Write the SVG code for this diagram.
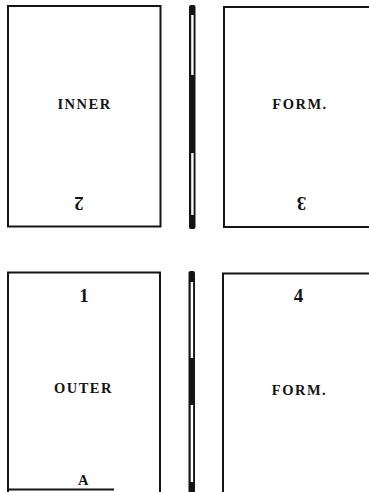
<svg xmlns="http://www.w3.org/2000/svg" width="369" height="492" viewBox="0 0 369 492">
<style>
.box{fill:none;stroke:#141414;stroke-width:2}
.t{font-family:"Liberation Serif","Times New Roman",serif;font-weight:bold;font-size:14.5px;fill:#141414;text-anchor:middle;letter-spacing:1.5px}
.n{font-family:"Liberation Serif","Times New Roman",serif;font-weight:bold;font-size:19px;fill:#141414;text-anchor:middle}
.bar{fill:#141414}
.slot{fill:#fff}
</style>
<rect width="369" height="492" fill="#fff"/>
<g id="inner-left">
<rect class="box" x="8" y="6" width="152.5" height="220.5"/>
<text class="t" x="84.5" y="109">INNER</text>
<text class="n" x="79" y="210" transform="rotate(180 79 203.5)">2</text>
</g>
<g id="inner-right">
<path class="box" d="M370 7 H224 V227 H370"/>
<text class="t" x="300" y="109">FORM.</text>
<text class="n" x="301.5" y="210" transform="rotate(180 301.5 203.5)">3</text>
</g>
<g id="outer-left">
<path class="box" d="M8 493 V272.5 H160 V493"/>
<path class="box" d="M8 489.5 H114"/>
<text class="n" x="84" y="302">1</text>
<text class="t" x="83.5" y="393">OUTER</text>
<text class="t" x="84" y="485">A</text>
</g>
<g id="outer-right">
<path class="box" d="M370 273.5 H223 V493"/>
<text class="n" x="298.5" y="302">4</text>
<text class="t" x="299.5" y="394.5">FORM.</text>
</g>
<g id="connectors">
<rect class="bar" x="189" y="5" width="6.5" height="224" rx="2"/>
<rect class="slot" x="191.2" y="15" width="2.4" height="60"/>
<rect class="slot" x="191.2" y="153" width="2.4" height="62"/>
<rect class="bar" x="188.5" y="271" width="6.5" height="222" rx="2"/>
<rect class="slot" x="190.7" y="282" width="2.4" height="76"/>
<rect class="slot" x="190.7" y="405" width="2.4" height="77"/>
</g>
</svg>
